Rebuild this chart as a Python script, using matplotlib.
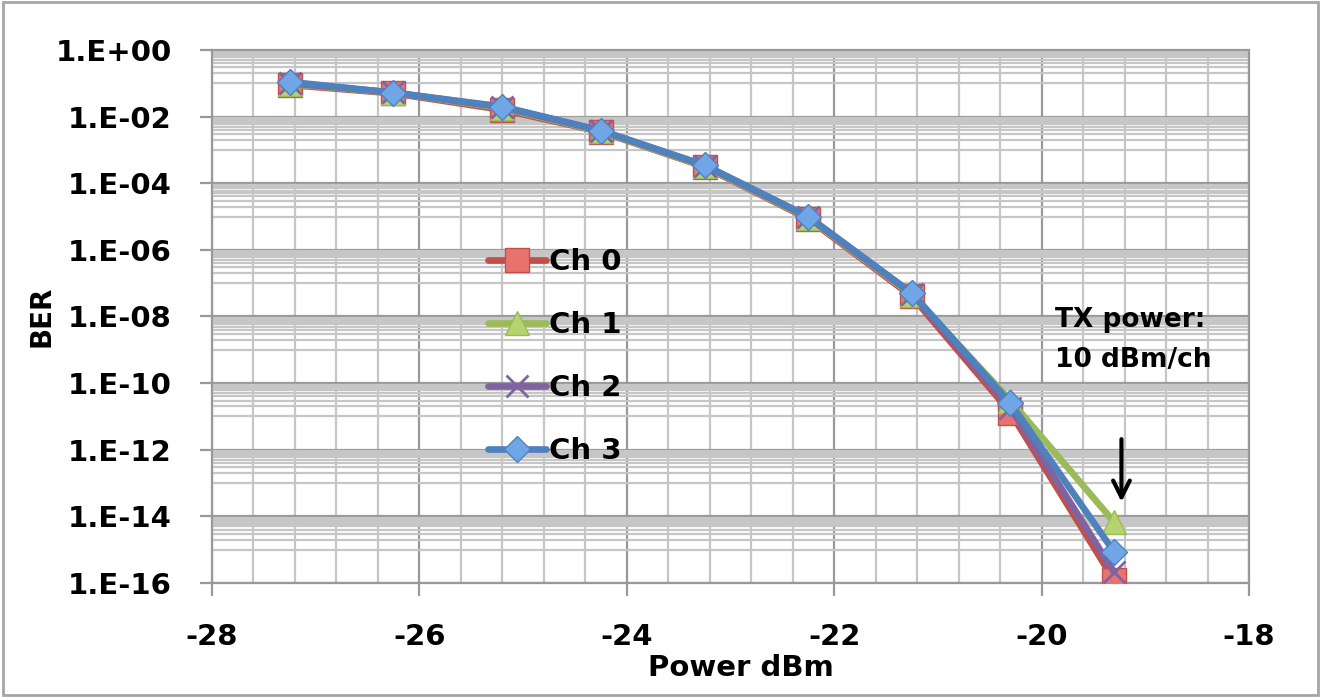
import matplotlib
matplotlib.use("Agg")
import matplotlib.pyplot as plt
import numpy as np
from matplotlib.ticker import FixedLocator, MultipleLocator, FuncFormatter, NullFormatter
from matplotlib.patches import Rectangle

power = [-27.25, -26.25, -25.2, -24.25, -23.25, -22.25, -21.25, -20.3, -19.3]
ch0 = [8.9e-2, 5.0e-2, 1.6e-2, 3.5e-3, 3.1e-4, 8.5e-6, 4.0e-8, 1.3e-11, 1.2e-16]
ch1 = [9.5e-2, 5.2e-2, 1.8e-2, 3.6e-3, 3.2e-4, 9.0e-6, 4.5e-8, 3.0e-11, 6.7e-15]
ch2 = [1.0e-1, 5.3e-2, 1.9e-2, 3.8e-3, 3.4e-4, 9.5e-6, 4.8e-8, 1.8e-11, 2.1e-16]
ch3 = [1.1e-1, 5.2e-2, 2.0e-2, 3.8e-3, 3.5e-4, 1.0e-5, 5.0e-8, 2.5e-11, 8.5e-16]
labels = ["Ch 0", "Ch 1", "Ch 2", "Ch 3"]

fig = plt.figure(figsize=(13.21, 6.97), dpi=100)
ax = fig.add_axes([0.1605, 0.1636, 0.785, 0.7647])

series = [
    (ch0, dict(color="#c0504d", marker="s", markersize=17, markerfacecolor="#e8726e", markeredgecolor="#c0504d")),
    (ch1, dict(color="#9bbb59", marker="^", markersize=17, markerfacecolor="#b5d36f", markeredgecolor="#9bbb59")),
    (ch2, dict(color="#8064a2", marker="x", markersize=16, markeredgewidth=2, markeredgecolor="#8064a2")),
    (ch3, dict(color="#4f81bd", marker="D", markersize=13, markerfacecolor="#70a5e6", markeredgecolor="#4f81bd")),
]
for (vals, style), lab in zip(series, labels):
    ax.plot(power, vals, linewidth=4.8, label=lab, solid_capstyle="round", zorder=3, **style)

ax.set_yscale("log")
ax.set_xlim(-28, -18)
ax.set_ylim(1e-16, 1e0)

ax.xaxis.set_major_locator(MultipleLocator(2))
ax.xaxis.set_minor_locator(MultipleLocator(0.4))
ax.yaxis.set_major_locator(FixedLocator([10.0 ** e for e in range(-16, 1, 2)]))
ax.yaxis.set_minor_locator(FixedLocator([k * 10.0 ** e for e in range(-15, 0, 2) for k in range(1, 10)]))
ax.yaxis.set_major_formatter(FuncFormatter(lambda v, p: "1.E%+03d" % int(round(np.log10(v)))))
ax.yaxis.set_minor_formatter(NullFormatter())
ax.xaxis.set_major_formatter(FuncFormatter(lambda v, p: "%d" % round(v)))

ax.grid(True, which="major", color="#999999", linewidth=1.6, zorder=0)
ax.grid(True, which="minor", color="#c6c6c6", linewidth=1.6, zorder=0)
ax.set_axisbelow(True)
for s in ax.spines.values():
    s.set_color("#999999")
    s.set_linewidth(1.6)

ax.tick_params(which="major", length=9, width=1.6, color="#999999", labelsize=21, pad=20)
ax.tick_params(which="minor", length=0)
for t in ax.get_xticklabels() + ax.get_yticklabels():
    t.set_fontweight("bold")

ax.set_xlabel("Power dBm", fontsize=21, fontweight="bold", labelpad=2)
ax.xaxis.label.set_x(0.51)
ax.set_ylabel("BER", fontsize=20, fontweight="bold", labelpad=0)

leg = ax.legend(loc="upper left", bbox_to_anchor=(0.252, 0.655), frameon=False,
                prop={"size": 21, "weight": "bold"}, handlelength=2.0,
                handletextpad=0.1, labelspacing=1.2, borderpad=0)

ax.text(-19.87, 10 ** -8.7, "TX power:\n10 dBm/ch", fontsize=19, fontweight="bold",
        ha="left", va="center", linespacing=1.7, zorder=5)
ax.annotate("", xy=(-19.23, 10 ** -13.65), xytext=(-19.23, 10 ** -11.6),
            arrowprops=dict(arrowstyle="->", color="black", lw=3, mutation_scale=30), zorder=5)

fig.patches.append(Rectangle((0.002, 0.003), 0.996, 0.994, transform=fig.transFigure,
                             fill=False, edgecolor="#a6a6a6", linewidth=2))

fig.savefig("out.png", dpi=100)
